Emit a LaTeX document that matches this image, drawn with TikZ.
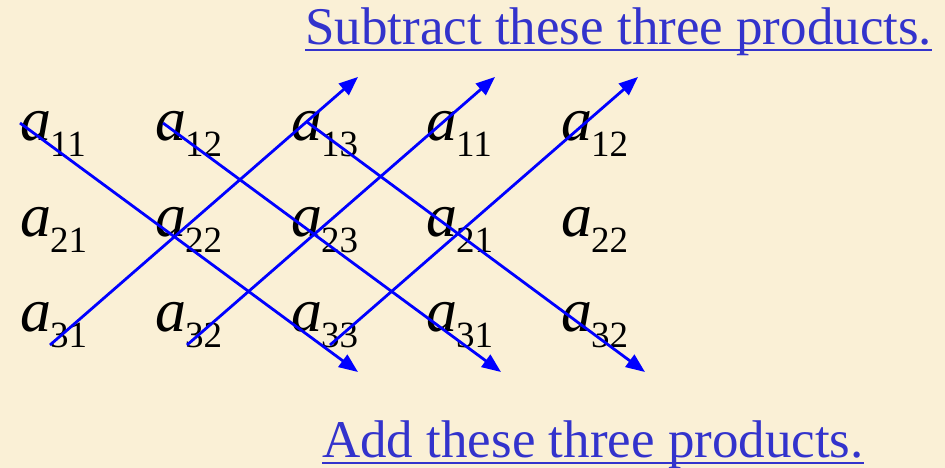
\documentclass[tikz,border=0pt]{standalone}
\usepackage{fontspec}
\setmainfont{Liberation Serif}
\usetikzlibrary{arrows.meta}
\definecolor{parch}{RGB}{250,240,214}
\definecolor{labblue}{RGB}{51,51,204}
\tikzset{entry/.style={anchor=base west,inner sep=0pt},diag/.style={draw=blue,line width=2.8pt,-{Triangle[length=19pt,width=15pt]}},lab/.style={anchor=base west,inner sep=0pt,text=labblue,font=\fontsize{53}{53}\selectfont},uline/.style={draw=labblue,line width=2.4pt}}
\newcommand\elem[1]{{\fontsize{62}{62}\selectfont\itshape a}\kern-1pt\raisebox{-16pt}{\fontsize{37}{37}\selectfont #1}}

\begin{document}
\begin{tikzpicture}[x=1pt,y=-1pt]
\fill[parch] (0,0) rectangle (945,468);
\path[use as bounding box] (0,0) rectangle (945,468);
\foreach \name/\xx/\yy/\sub in {e11/20/141/11,e12/155/141/12,e13/291/141/13,e14/426/141/11,e15/561/141/12,
  e21/20/236/21,e22/155/236/22,e23/291/236/23,e24/426/236/21,e25/561/236/22,
  e31/20/331/31,e32/155/331/32,e33/291/331/33,e34/426/331/31,e35/561/331/32}{
\node[entry] (\name) at (\xx,\yy) {\elem{\sub}};
}
% products that are added
\coordinate (p1) at (20,123);
\coordinate (p2) at (163,123);
\coordinate (p3) at (307,122);
\coordinate (q1) at (358,372);
\coordinate (q2) at (501,372);
\coordinate (q3) at (645,372);
% products that are subtracted
\coordinate (r1) at (50,345);
\coordinate (r2) at (187,345);
\coordinate (r3) at (330,345);
\coordinate (s1) at (358,77);
\coordinate (s2) at (495,77);
\coordinate (s3) at (638,77);
\foreach \i in {1,2,3}{
\draw[diag] (p\i) -- (q\i);
\draw[diag] (r\i) -- (s\i);
}
\node[lab] (sub) at (305,45) {Subtract these three products.};
\draw[uline] ([yshift=-5pt]sub.base west) -- ([yshift=-5pt]sub.base east);
\node[lab] (add) at (322,457) {Add these three products.};
\draw[uline] ([yshift=-6pt]add.base west) -- ([yshift=-6pt]add.base east);
\end{tikzpicture}
\end{document}
